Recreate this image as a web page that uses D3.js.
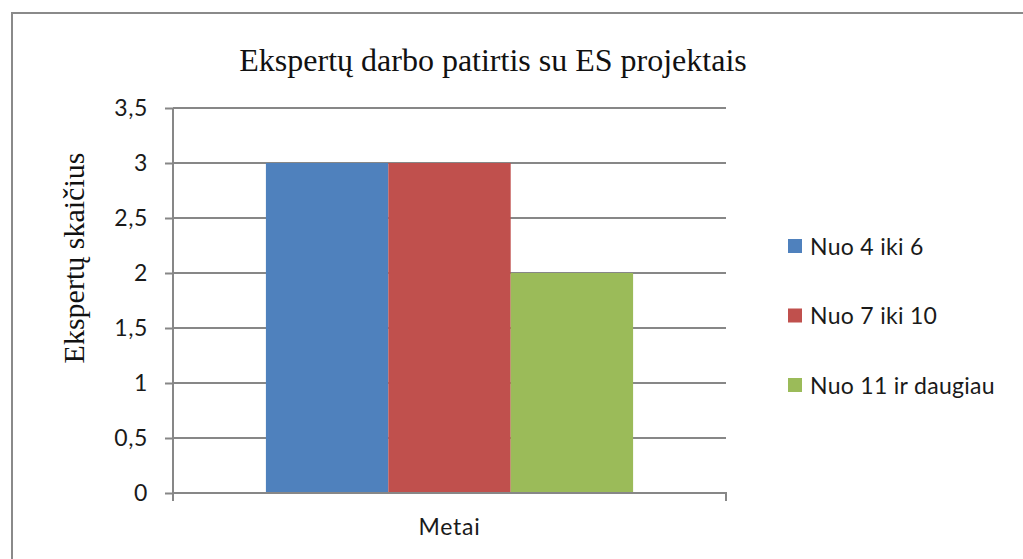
<!DOCTYPE html>
<html><head><meta charset="utf-8">
<script src="https://cdn.jsdelivr.net/npm/d3@7"></script>
<style>body{margin:0;background:#fff}svg{display:block}</style>
</head><body>
<script>
const title = "Ekspertų darbo patirtis su ES projektais";
const yTitle = "Ekspertų skaičius";
const category = ["Metai"];
const seriesNames = ["Nuo 4 iki 6", "Nuo 7 iki 10", "Nuo 11 ir daugiau"];
const seriesValues = [3, 3, 2];
const seriesColors = ["#4F81BD", "#C0504D", "#9BBB59"];
const yTicks = [0, 0.5, 1, 1.5, 2, 2.5, 3, 3.5];

const W = 1023, H = 559;
const svg = d3.select("body").append("svg").attr("width", W).attr("height", H);
const sans = "Lato, 'Open Sans', sans-serif";
const serif = "'Liberation Serif', 'DejaVu Serif', serif";
const grid = "#878787";

// outer border
svg.append("path").attr("d", `M12,${H+5} L12,13 L${W+5},13`).attr("fill","none").attr("stroke","#8a8a8a").attr("stroke-width",2);

const x0 = 173, x1 = 726, yTop = 108, yBot = 493;
const x = d3.scaleBand().domain(category).range([x0, x1]).paddingInner(0).paddingOuter(0.253);
const y = d3.scaleLinear().domain([0, 3.5]).range([yBot, yTop]);
const xs = d3.scaleBand().domain(seriesNames).range([0, x.bandwidth()]);

// gridlines
svg.append("g").selectAll("line").data(yTicks.filter(d => d > 0)).join("line")
  .attr("x1", x0).attr("x2", x1).attr("y1", d => y(d)).attr("y2", d => y(d))
  .attr("stroke", grid).attr("stroke-width", 2);

// bars
svg.append("g").selectAll("rect").data(seriesNames).join("rect")
  .attr("x", (d) => x(category[0]) + xs(d))
  .attr("width", xs.bandwidth())
  .attr("y", (d, i) => y(seriesValues[i]))
  .attr("height", (d, i) => y(0) - y(seriesValues[i]))
  .attr("fill", (d, i) => seriesColors[i]);

// y axis
const yAxis = svg.append("g").attr("transform", `translate(${x0},0)`)
  .call(d3.axisLeft(y).tickValues(yTicks).tickSize(8).tickPadding(17)
    .tickFormat(d => String(d).replace(".", ",")));
yAxis.select(".domain").attr("stroke", grid).attr("stroke-width", 2).attr("d", `M0,${yTop}V${yBot}`);
yAxis.selectAll(".tick line").attr("stroke", grid).attr("stroke-width", 2);
yAxis.selectAll(".tick text").attr("font-family", sans).attr("font-size", 23)
  .attr("letter-spacing", 0.6).attr("fill", "#1a1a1a");

// x axis
const xAxis = svg.append("g").attr("transform", `translate(0,${yBot})`)
  .call(d3.axisBottom(x).tickSize(0).tickPadding(26));
xAxis.select(".domain").attr("stroke", grid).attr("stroke-width", 2).attr("d", `M${x0},8V0H${x1}V8`);
xAxis.selectAll(".tick text").attr("font-family", sans).attr("font-size", 23)
  .attr("letter-spacing", 0.8).attr("fill", "#1a1a1a");

// title
svg.append("text").attr("x", 493).attr("y", 71).attr("text-anchor", "middle")
  .attr("font-family", serif).attr("font-size", 32).attr("fill", "#111").text(title);

// y title
svg.append("text").attr("transform", `translate(84,258) rotate(-90)`).attr("text-anchor", "middle")
  .attr("font-family", serif).attr("font-size", 30).attr("fill", "#111").text(yTitle);

// legend
const leg = svg.append("g").selectAll("g").data(seriesNames).join("g")
  .attr("transform", (d, i) => `translate(788,${246 + i * 69.5})`);
leg.append("rect").attr("x", 0).attr("y", -7).attr("width", 14).attr("height", 14)
  .attr("fill", (d, i) => seriesColors[i]);
leg.append("text").attr("x", 22).attr("y", 8.5).attr("font-family", sans).attr("font-size", 23)
  .attr("letter-spacing", 0.3).attr("fill", "#1a1a1a").text(d => d);
</script>
</body></html>
